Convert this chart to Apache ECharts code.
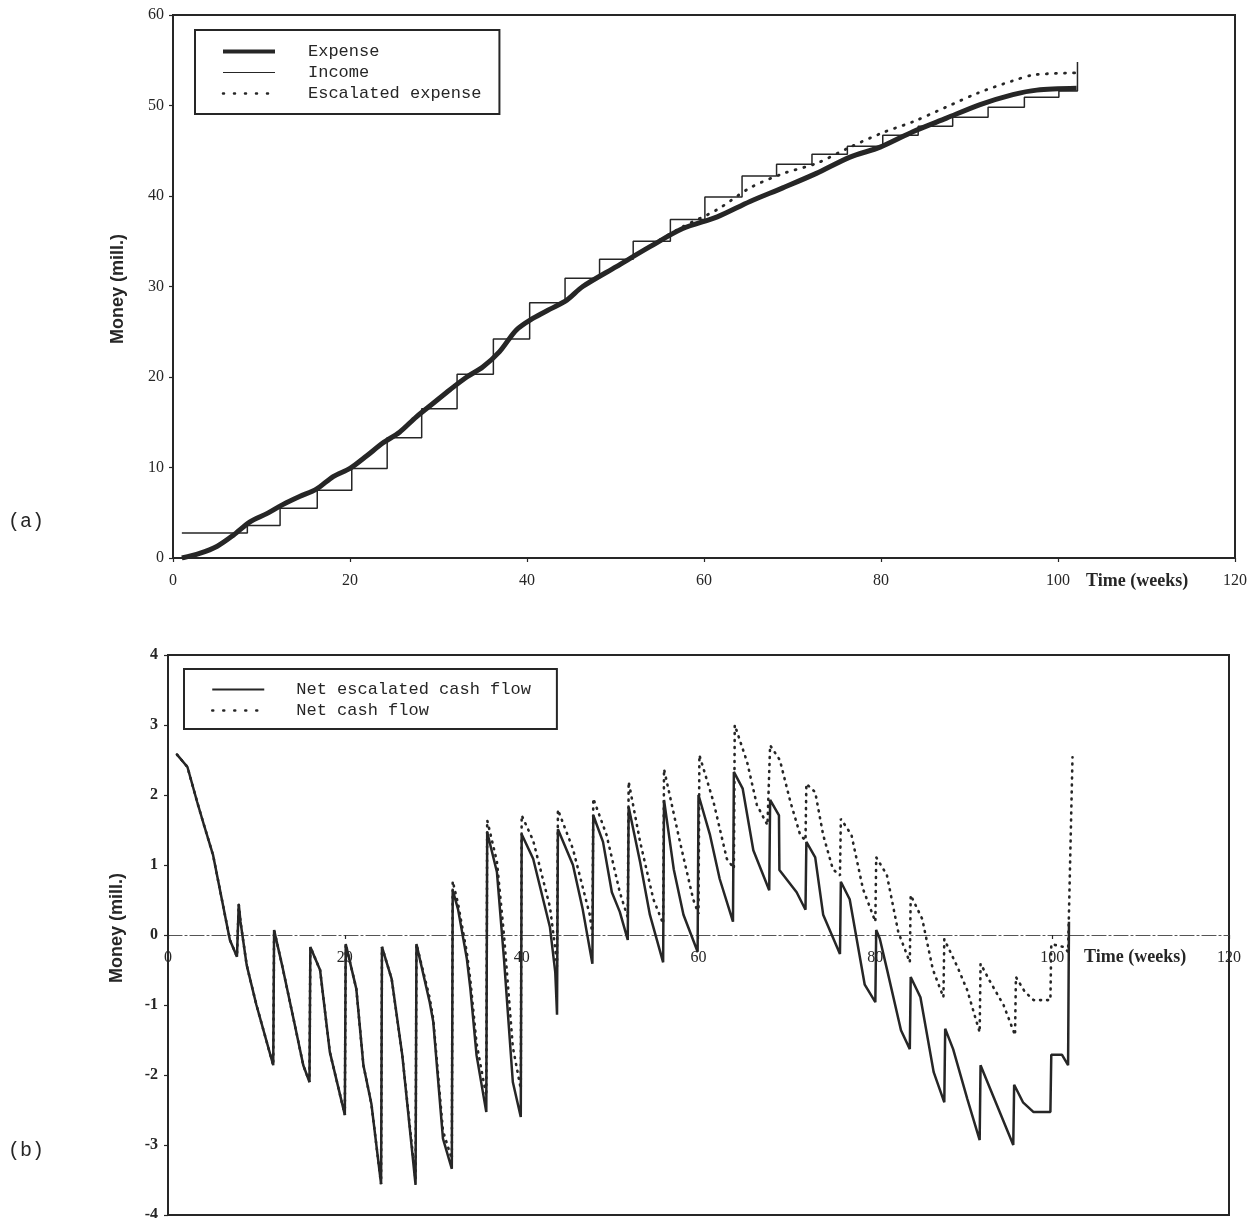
<!DOCTYPE html>
<html>
<head>
<meta charset="utf-8">
<script src="https://cdn.jsdelivr.net/npm/echarts@6/dist/echarts.min.js"></script>
<style>
  html, body { margin: 0; padding: 0; background: #fff; }
  #chart { width: 1253px; height: 1218px; }
</style>
</head>
<body>
<div id="chart"></div>
<script>
// (a) cumulative curves, [week, money]
const expense = [
  [1, 0], [3, 0.5], [5, 1.3], [6.8, 2.5], [8.7, 4.0], [10.6, 4.9], [12.4, 5.9], [14.3, 6.8],
  [16.2, 7.6], [18.1, 9.0], [20, 9.9], [21.9, 11.3], [23.7, 12.7], [25.6, 13.9], [27.5, 15.6],
  [29.4, 17.1], [31.3, 18.6], [33.2, 20.0], [35, 21.1], [36.9, 22.8], [38.8, 25.2], [40.7, 26.5],
  [42.6, 27.5], [44.5, 28.5], [46.3, 30.0], [50.1, 32.2], [53.9, 34.4], [57.6, 36.4], [61.5, 37.7],
  [65.2, 39.4], [68.9, 40.9], [72.7, 42.5], [76.5, 44.3], [79.9, 45.4], [83.6, 47.1], [87.4, 48.6],
  [91.2, 50.1], [94.9, 51.2], [97.6, 51.7], [102.1, 51.9]
]
// income: value after each payment (step function)
const income = [
  [1, 2.76], [8.4, 3.6], [12.1, 5.5], [16.3, 7.5], [20.2, 9.9], [24.2, 13.3], [28.1, 16.5],
  [32.1, 20.3], [36.2, 24.2], [40.3, 28.2], [44.3, 30.9], [48.2, 33.0], [52, 35.0], [56.2, 37.4],
  [60.1, 39.9], [64.3, 42.2], [68.2, 43.5], [72.2, 44.6], [76.2, 45.5], [80.2, 46.7], [84.2, 47.7],
  [88.1, 48.7], [92.1, 49.8], [96.2, 50.9], [100.1, 51.6], [102.2, 54.8]
]
const escalatedExpense = [
  [46.3, 30.0], [50.1, 32.2], [53.9, 34.5], [57.6, 36.6], [61.5, 38.5], [65.2, 40.9], [69, 42.5],
  [72.7, 43.6], [76.5, 45.4], [80.2, 47.0], [83.6, 48.2], [87.3, 49.8], [91, 51.4], [94.8, 52.7],
  [97.4, 53.4], [102.2, 53.6]
]

// (b) net cash flows, [week, money]
const netEscalated = [
  [1.0, 2.58], [2.2, 2.4], [3.3, 1.9], [4.0, 1.6], [5.1, 1.14], [7.0, -0.07], [7.8, -0.31], [8.0, 0.44],
  [8.2, 0.19], [8.9, -0.43], [10.0, -1.0], [11.9, -1.86], [12.0, 0.07], [12.9, -0.43], [14.2, -1.2],
  [15.3, -1.86], [16.0, -2.1], [16.1, -0.17], [17.2, -0.5], [18.3, -1.67], [20.0, -2.57], [20.1, -0.13],
  [21.3, -0.77], [22.1, -1.86], [23.0, -2.41], [24.1, -3.56], [24.2, -0.17], [25.3, -0.63], [26.5, -1.72],
  [28.0, -3.57], [28.1, -0.13], [29.6, -0.96], [30.0, -1.24], [31.1, -2.91], [32.1, -3.34], [32.2, 0.64],
  [32.8, 0.37], [33.8, -0.34], [34.2, -0.77], [34.9, -1.72], [36.0, -2.53], [36.1, 1.47], [37.2, 0.9],
  [38.0, -0.34], [39.0, -2.1], [39.9, -2.6], [40.0, 1.44], [41.3, 1.09], [43.2, 0.11], [43.8, -0.53],
  [44.0, -1.14], [44.1, 1.51], [45.8, 1.0], [46.9, 0.37], [48.0, -0.41], [48.1, 1.71], [49.2, 1.33],
  [50.2, 0.61], [51.1, 0.33], [52.0, -0.07], [52.1, 1.83], [53.4, 1.04], [54.5, 0.29], [56.0, -0.39],
  [56.1, 1.93], [57.2, 0.94], [58.3, 0.29], [59.9, -0.24], [60.0, 2.0], [61.3, 1.43], [62.4, 0.8],
  [63.9, 0.19], [64.0, 2.33], [65.0, 2.09], [66.2, 1.21], [68.0, 0.64], [68.1, 1.93], [69.1, 1.71],
  [69.15, 0.93], [71.1, 0.61], [72.1, 0.36], [72.2, 1.33], [73.2, 1.11], [74.1, 0.29], [76.0, -0.27],
  [76.1, 0.76], [77.1, 0.51], [78.8, -0.71], [80.0, -0.96], [80.1, 0.07], [80.5, -0.05], [81.3, -0.48],
  [82.9, -1.36], [83.9, -1.63], [84.0, -0.6], [85.1, -0.89], [86.6, -1.96], [87.8, -2.39], [87.9, -1.34],
  [88.8, -1.63], [90.4, -2.34], [91.8, -2.93], [91.9, -1.86], [93.0, -2.2], [95.6, -3.0], [95.7, -2.14],
  [96.7, -2.39], [97.9, -2.53], [99.8, -2.53], [99.9, -1.71], [101.1, -1.71], [101.8, -1.86], [101.9, 0.19]
]
const netCash = [
  [1.0, 2.58], [2.2, 2.4], [3.3, 1.9], [4.0, 1.6], [5.1, 1.14], [7.0, -0.07], [7.8, -0.31], [8.0, 0.44],
  [8.2, 0.19], [8.9, -0.43], [10.0, -1.0], [11.9, -1.86], [12.0, 0.07], [12.9, -0.43], [14.2, -1.2],
  [15.3, -1.86], [16.0, -2.1], [16.1, -0.17], [17.2, -0.5], [18.3, -1.67], [20.0, -2.57], [20.1, -0.13],
  [21.3, -0.77], [22.1, -1.86], [23.0, -2.41], [24.1, -3.56], [24.2, -0.17], [25.3, -0.63], [26.5, -1.72],
  [28.0, -3.5], [28.1, -0.13], [29.6, -0.9], [30.0, -1.2], [31.1, -2.8], [32.1, -3.2], [32.2, 0.77],
  [32.8, 0.45], [33.8, -0.25], [34.2, -0.65], [34.9, -1.55], [36.0, -2.3], [36.1, 1.64], [37.2, 1.05],
  [38.0, 0.0], [39.0, -1.6], [39.9, -2.2], [40.0, 1.71], [41.3, 1.35], [43.2, 0.4], [43.8, -0.2],
  [44.0, -0.45], [44.1, 1.79], [45.8, 1.23], [47.7, 0.29], [48.0, 0.0], [48.1, 1.95], [49.6, 1.43],
  [51.1, 0.61], [52.0, 0.25], [52.1, 2.19], [53.4, 1.33], [54.9, 0.51], [56.0, 0.16], [56.1, 2.37],
  [57.9, 1.33], [59.4, 0.51], [60.0, 0.3], [60.1, 2.57], [61.7, 1.9], [63.2, 1.09], [64.0, 0.95],
  [64.1, 3.0], [65.5, 2.47], [66.6, 1.86], [67.8, 1.57], [68.1, 2.71], [69.2, 2.5], [70.4, 1.9],
  [71.5, 1.43], [72.1, 1.35], [72.2, 2.16], [73.2, 2.04], [74.1, 1.43], [75.2, 0.94], [76.0, 0.85],
  [76.1, 1.66], [77.3, 1.43], [78.6, 0.66], [80.0, 0.19], [80.1, 1.11], [81.3, 0.86], [82.6, 0.04],
  [83.9, -0.39], [84.0, 0.57], [85.3, 0.23], [86.5, -0.49], [87.7, -0.89], [87.8, -0.06], [89.3, -0.46],
  [90.4, -0.79], [91.8, -1.39], [91.9, -0.41], [93.0, -0.67], [94.5, -1.0], [95.8, -1.43], [95.9, -0.6],
  [96.9, -0.81], [97.9, -0.93], [99.8, -0.93], [99.9, -0.13], [101.3, -0.17], [101.8, -0.24], [102.3, 2.54]
]

const ink = '#262626'
const serif = '"Liberation Serif", "DejaVu Serif", serif'
const mono = '"Liberation Mono", "DejaVu Sans Mono", monospace'

let option = {
  backgroundColor: '#fff',
  animation: false,
  grid: [
    { left: 173, top: 15, width: 1062, height: 543, show: true, borderColor: ink, borderWidth: 2, backgroundColor: 'transparent', outerBoundsMode: 'none', containLabel: false },
    { left: 168, top: 655, width: 1061, height: 560, show: true, borderColor: ink, borderWidth: 2, backgroundColor: 'transparent', outerBoundsMode: 'none', containLabel: false }
  ],
  xAxis: [
    {
      gridIndex: 0,
      type: 'value',
      min: 0,
      max: 120,
      interval: 20,
      axisLine: { show: true, onZero: false, lineStyle: { color: ink, width: 2 } },
      axisTick: { show: true, length: 4, lineStyle: { color: ink, width: 1.2 } },
      axisLabel: { color: ink, fontFamily: serif, fontSize: 16, margin: 15 },
      splitLine: { show: false }
    },
    {
      // sits on the zero line of the -4..4 scale (280px above the bottom)
      gridIndex: 1,
      type: 'value',
      min: 0,
      max: 120,
      interval: 20,
      offset: -280,
      axisLine: { show: true, onZero: false, lineStyle: { color: '#555', width: 1.2, type: [14, 3, 2, 3] } },
      axisTick: { show: true, length: 4, lineStyle: { color: ink, width: 1.2 } },
      axisLabel: { color: ink, fontFamily: serif, fontSize: 16, margin: 15 },
      splitLine: { show: false }
    }
  ],
  yAxis: [
    {
      gridIndex: 0,
      type: 'value',
      min: 0,
      max: 60,
      interval: 10,
      axisLine: { show: true, lineStyle: { color: ink, width: 2 } },
      axisTick: { show: true, length: 4, lineStyle: { color: ink, width: 1.2 } },
      axisLabel: { color: ink, fontFamily: serif, fontSize: 16, margin: 9 },
      splitLine: { show: false }
    },
    {
      gridIndex: 1,
      type: 'value',
      min: -4,
      max: 4,
      interval: 1,
      axisLine: { show: true, onZero: false, lineStyle: { color: ink, width: 2 } },
      axisTick: { show: true, length: 4, lineStyle: { color: ink, width: 1.2 } },
      axisLabel: { color: ink, fontFamily: serif, fontWeight: 'bold', fontSize: 16, margin: 10 },
      splitLine: { show: false }
    }
  ],
  legend: [
    {
      data: [
        { name: 'Expense', lineStyle: { width: 4 } },
        { name: 'Income', lineStyle: { width: 1.2 } },
        { name: 'Escalated expense', lineStyle: { width: 2.5, type: [1, 10] } }
      ],
      orient: 'vertical',
      left: 195,
      top: 30,
      padding: [13, 18, 12, 26],
      itemWidth: 52,
      itemHeight: 14,
      itemGap: 4,
      borderColor: ink,
      borderWidth: 2,
      backgroundColor: '#fff',
      selectedMode: false,
      itemStyle: { opacity: 0 },
      textStyle: { color: ink, fontFamily: mono, fontSize: 17, lineHeight: 14, padding: [0, 0, 0, 28] }
    },
    {
      data: [
        { name: 'Net escalated cash flow', lineStyle: { width: 2 } },
        { name: 'Net cash flow', lineStyle: { width: 2.5, type: [1, 10] } }
      ],
      orient: 'vertical',
      left: 184,
      top: 669,
      padding: [12, 26, 10, 27],
      itemWidth: 52,
      itemHeight: 14,
      itemGap: 4,
      borderColor: ink,
      borderWidth: 2,
      backgroundColor: '#fff',
      selectedMode: false,
      itemStyle: { opacity: 0 },
      textStyle: { color: ink, fontFamily: mono, fontSize: 17, lineHeight: 14, padding: [0, 0, 0, 27] }
    }
  ],
  series: [
    {
      name: 'Income',
      type: 'line',
      xAxisIndex: 0,
      yAxisIndex: 0,
      step: 'end',
      symbol: 'none',
      lineStyle: { color: ink, width: 1.5 },
      itemStyle: { color: ink },
      data: income,
      z: 3
    },
    {
      name: 'Escalated expense',
      type: 'line',
      xAxisIndex: 0,
      yAxisIndex: 0,
      smooth: 0.3,
      symbol: 'none',
      lineStyle: { color: ink, width: 2.8, type: [1, 8], cap: 'round' },
      itemStyle: { color: ink },
      data: escalatedExpense,
      z: 3
    },
    {
      name: 'Expense',
      type: 'line',
      xAxisIndex: 0,
      yAxisIndex: 0,
      smooth: 0.3,
      symbol: 'none',
      lineStyle: { color: ink, width: 5 },
      itemStyle: { color: ink },
      data: expense,
      z: 4
    },
    {
      name: 'Net cash flow',
      type: 'line',
      xAxisIndex: 1,
      yAxisIndex: 1,
      symbol: 'none',
      lineStyle: { color: ink, width: 2.6, type: [1, 6], cap: 'round' },
      itemStyle: { color: ink },
      data: netCash,
      z: 3
    },
    {
      name: 'Net escalated cash flow',
      type: 'line',
      xAxisIndex: 1,
      yAxisIndex: 1,
      symbol: 'none',
      lineStyle: { color: ink, width: 2.5 },
      itemStyle: { color: ink },
      data: netEscalated,
      z: 4
    }
  ],
  graphic: [
    { type: 'text', left: 1086, top: 572, style: { text: 'Time (weeks)', fill: ink, font: 'bold 18px ' + serif } },
    { type: 'text', left: 1084, top: 948, style: { text: 'Time (weeks)', fill: ink, font: 'bold 18px ' + serif } },
    { type: 'text', x: 118, y: 289, rotation: Math.PI / 2, style: { text: 'Money (mill.)', fill: ink, font: 'bold 18px "Liberation Sans", sans-serif', align: 'center', verticalAlign: 'middle' } },
    { type: 'text', x: 117, y: 928, rotation: Math.PI / 2, style: { text: 'Money (mill.)', fill: ink, font: 'bold 18px "Liberation Sans", sans-serif', align: 'center', verticalAlign: 'middle' } },
    { type: 'text', left: 8, top: 512, style: { text: '(a)', fill: ink, font: '20px ' + mono } },
    { type: 'text', left: 8, top: 1141, style: { text: '(b)', fill: ink, font: '20px ' + mono } }
  ]
}

let chart = echarts.init(document.getElementById('chart'))
chart.setOption(option)
</script>
</body>
</html>
